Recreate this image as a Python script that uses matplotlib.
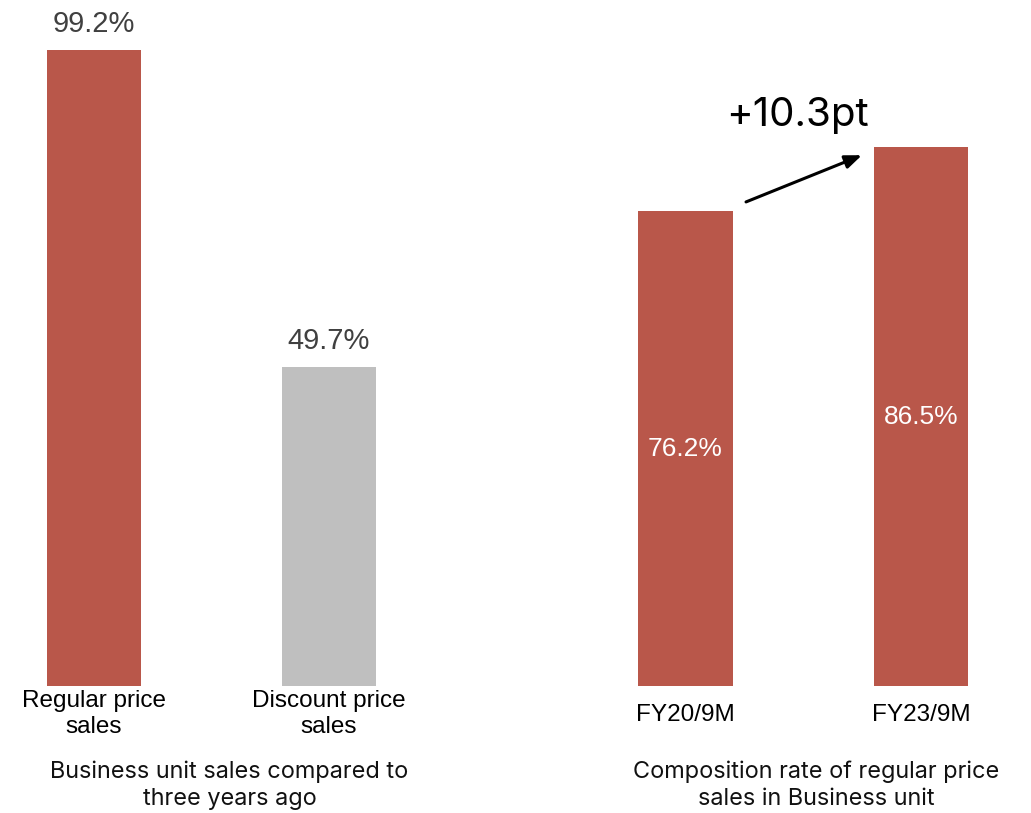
import matplotlib
matplotlib.use("Agg")
import matplotlib.pyplot as plt

# Data
left_categories = ["Regular price\nsales", "Discount price\nsales"]
left_values = [99.2, 49.7]
right_categories = ["FY20/9M", "FY23/9M"]
right_values = [76.2, 86.5]
left_title = "Business unit sales compared to\nthree years ago"
right_title = "Composition rate of regular price\nsales in Business unit"
delta_label = "+10.3pt"

RED = "#B9574A"
GRAY = "#BFBFBF"
W, H = 1031, 813

fig = plt.figure(figsize=(W / 100, H / 100), dpi=100)

def px_axes(left, bottom_from_top, width, height):
    return fig.add_axes([left / W, (H - bottom_from_top) / H, width / W, height / H])

bar_font = ["Liberation Sans", "DejaVu Sans"]
title_font = ["Inter", "DejaVu Sans"]

# Left panel
axL = px_axes(47, 686, 329, 641)
axL.bar(range(2), left_values, width=0.4, color=[RED, GRAY])
axL.set_xlim(-0.2, 1.2)
axL.set_ylim(0, 100)
for i, v in enumerate(left_values):
    axL.annotate(f"{v}%", (i, v), xytext=(0, 9), textcoords="offset points",
                 ha="center", va="bottom", fontsize=21, color="#404040",
                 family=bar_font)
axL.set_xticks(range(2))
axL.set_xticklabels(left_categories, fontsize=17.5, family=bar_font,
                    linespacing=1.25)
axL.tick_params(axis="x", length=0, pad=3)
axL.set_yticks([])
for s in axL.spines.values():
    s.set_visible(False)

# Right panel
axR = px_axes(638.4, 686, 329.7, 623)
axR.bar(range(2), right_values, width=0.403, color=RED)
axR.set_xlim(-0.2, 1.2)
axR.set_ylim(0, 100)
for i, v in enumerate(right_values):
    axR.text(i, v / 2, f"{v}%", ha="center", va="center", fontsize=19,
             color="white", family=bar_font)
axR.set_xticks(range(2))
axR.set_xticklabels(right_categories, fontsize=17.5, family=bar_font)
axR.tick_params(axis="x", length=0, pad=13)
axR.set_yticks([])
for s in axR.spines.values():
    s.set_visible(False)

# Arrow and delta label
axR.annotate("", xy=(0.749, 85.2), xytext=(0.257, 77.7),
             arrowprops=dict(arrowstyle="-|>,head_length=1.0,head_width=0.4",
                             color="black", lw=2.2, shrinkA=0, shrinkB=0))
fig.text(797 / W, (H - 116) / H, delta_label, ha="center", va="center",
         fontsize=29, family=title_font, color="black")

# Titles
fig.text(229.5 / W, (H - 785) / H, left_title, ha="center", va="center",
         fontsize=16.9, family=title_font, color="#111111", linespacing=1.3)
fig.text(816 / W, (H - 785) / H, right_title, ha="center", va="center",
         fontsize=16.9, family=title_font, color="#111111", linespacing=1.3)

fig.savefig("out.png", dpi=100)
